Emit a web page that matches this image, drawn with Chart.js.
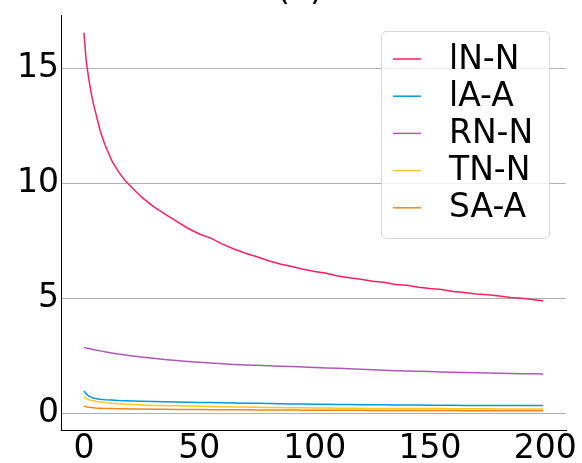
<!DOCTYPE html>
<html>
<head>
<meta charset="utf-8">
<script src="https://cdn.jsdelivr.net/npm/chart.js@4.4.1/dist/chart.umd.min.js"></script>
<style>
  html, body { margin: 0; padding: 0; background: #fff; }
  #chart { display: block; }
</style>
</head>
<body>
<canvas id="chart" width="582" height="463"></canvas>
<script>
// ---- data ----
const steps = [0, 1, 2, 3, 4, 5, 7, 9, 12, 15, 18, 21, 25, 30, 35, 40, 45, 50, 55, 60,
  65, 70, 75, 80, 85, 90, 95, 100, 105, 110, 115, 120, 125, 130, 135, 140, 145, 150,
  155, 160, 165, 170, 175, 180, 185, 190, 195, 199];

const lnN = [16.55, 15.3, 14.6, 14.0, 13.5, 13.1, 12.3, 11.7, 11.0, 10.5, 10.1, 9.8, 9.4,
  9.0, 8.68, 8.36, 8.05, 7.8, 7.62, 7.36, 7.15, 6.96, 6.81, 6.64, 6.5, 6.39, 6.27, 6.17,
  6.09, 5.97, 5.9, 5.83, 5.75, 5.7, 5.61, 5.57, 5.49, 5.43, 5.39, 5.3, 5.26, 5.19, 5.16,
  5.1, 5.04, 5.01, 4.94, 4.9];
const laA = [0.98, 0.85, 0.76, 0.71, 0.67, 0.65, 0.62, 0.6, 0.58, 0.56, 0.55, 0.54, 0.53,
  0.52, 0.51, 0.5, 0.49, 0.48, 0.47, 0.46, 0.45, 0.44, 0.44, 0.43, 0.42, 0.41, 0.41, 0.4,
  0.4, 0.39, 0.39, 0.38, 0.38, 0.38, 0.37, 0.37, 0.37, 0.36, 0.36, 0.36, 0.35, 0.35, 0.35,
  0.35, 0.34, 0.34, 0.34, 0.34];
const rnN = [2.87, 2.84, 2.82, 2.8, 2.78, 2.76, 2.72, 2.68, 2.63, 2.58, 2.54, 2.5, 2.45,
  2.4, 2.34, 2.3, 2.26, 2.22, 2.19, 2.16, 2.13, 2.11, 2.09, 2.07, 2.05, 2.04, 2.02, 2.0,
  1.98, 1.96, 1.94, 1.92, 1.9, 1.88, 1.86, 1.85, 1.83, 1.82, 1.8, 1.79, 1.78, 1.77, 1.76,
  1.75, 1.74, 1.73, 1.72, 1.71];
const tnN = [0.72, 0.64, 0.6, 0.57, 0.55, 0.53, 0.5, 0.47, 0.44, 0.42, 0.4, 0.39, 0.37,
  0.35, 0.34, 0.33, 0.32, 0.31, 0.3, 0.29, 0.28, 0.28, 0.27, 0.26, 0.26, 0.25, 0.25, 0.24,
  0.24, 0.23, 0.23, 0.23, 0.22, 0.22, 0.22, 0.21, 0.21, 0.21, 0.21, 0.2, 0.2, 0.2, 0.2,
  0.19, 0.19, 0.19, 0.19, 0.19];
const saA = [0.32, 0.29, 0.27, 0.26, 0.25, 0.24, 0.23, 0.22, 0.21, 0.2, 0.2, 0.19, 0.19,
  0.18, 0.18, 0.17, 0.17, 0.17, 0.16, 0.16, 0.16, 0.16, 0.15, 0.15, 0.15, 0.15, 0.14, 0.14,
  0.14, 0.14, 0.14, 0.14, 0.13, 0.13, 0.13, 0.13, 0.13, 0.13, 0.13, 0.13, 0.12, 0.12, 0.12,
  0.12, 0.12, 0.12, 0.12, 0.12];

const seriesNames = ['lN-N', 'lA-A', 'RN-N', 'TN-N', 'SA-A'];
const seriesColors = ['#FF1F5B', '#009ADE', '#AF58BA', '#FFC61E', '#F28522'];
const seriesValues = [lnN, laA, rnN, tnN, saA];

const xTicks = [0, 50, 100, 150, 200];
const yTicks = [0, 5, 10, 15];
const panelTitle = '(a)';

const FONT = '"DejaVu Sans", sans-serif';

// Legend box drawn inside the plot, like matplotlib's 'upper right'
const boxLegend = {
    id: 'boxLegend',
    afterDatasetsDraw(chart) {
        const ctx = chart.ctx;
        const x = 381, y = 31, w = 168, h = 207;
        ctx.save();
        ctx.beginPath();
        ctx.roundRect(x + 0.5, y + 0.5, w, h, 5);
        ctx.fillStyle = 'rgba(255,255,255,0.8)';
        ctx.fill();
        ctx.strokeStyle = '#d6d6d6';
        ctx.lineWidth = 1;
        ctx.stroke();

        ctx.font = '33px ' + FONT;
        ctx.textBaseline = 'middle';
        ctx.textAlign = 'left';
        chart.data.datasets.forEach((ds, i) => {
            const rowY = 59 + i * 37.2;
            ctx.strokeStyle = ds.borderColor;
            ctx.lineWidth = 1.5;
            ctx.beginPath();
            ctx.moveTo(393, rowY);
            ctx.lineTo(421, rowY);
            ctx.stroke();
            ctx.fillStyle = '#000';
            ctx.fillText(ds.label, 449, rowY + 1);
        });
        ctx.restore();
    },
    afterDraw(chart) {
        // title sits mostly above the canvas in the reference
        const ctx = chart.ctx;
        ctx.save();
        ctx.font = '33px ' + FONT;
        ctx.fillStyle = '#000';
        ctx.textAlign = 'center';
        ctx.textBaseline = 'alphabetic';
        ctx.fillText(panelTitle, 300, 0);
        ctx.restore();
    }
};

const datasets = seriesNames.map((name, i) => ({
    label: name,
    data: steps.map((s, k) => ({ x: s, y: seriesValues[i][k] })),
    borderColor: seriesColors[i],
    backgroundColor: seriesColors[i],
    borderWidth: 1.5,
    pointRadius: 0,
    tension: 0,
    fill: false,
    order: seriesNames.length - i
}));

new Chart(document.getElementById('chart'), {
    type: 'line',
    data: { datasets: datasets },
    options: {
        responsive: false,
        animation: false,
        layout: { padding: { top: 15, right: 16, left: 0, bottom: 0 } },
        scales: {
            x: {
                type: 'linear',
                min: -9.95,
                max: 208.95,
                afterBuildTicks: (scale) => { scale.ticks = xTicks.map(v => ({ value: v })); },
                afterFit: (scale) => {
                    scale.height = 33;
                    scale.paddingLeft = 0;
                    scale.paddingRight = 0;
                },
                grid: { display: false, drawTicks: false },
                border: { display: true, color: '#000', width: 1 },
                ticks: {
                    color: '#000',
                    padding: 0,
                    maxRotation: 0,
                    font: { family: FONT, size: 33 }
                }
            },
            y: {
                type: 'linear',
                min: -0.72,
                max: 17.32,
                afterBuildTicks: (scale) => { scale.ticks = yTicks.map(v => ({ value: v })); },
                afterFit: (scale) => {
                    scale.width = 61;
                    scale.paddingTop = 0;
                    scale.paddingBottom = 0;
                },
                grid: { color: '#b0b0b0', lineWidth: 1, drawTicks: false },
                border: { display: true, color: '#000', width: 1 },
                ticks: {
                    color: '#000',
                    padding: 2,
                    font: { family: FONT, size: 33 }
                }
            }
        },
        plugins: {
            legend: { display: false },
            title: { display: false },
            tooltip: { enabled: false }
        }
    },
    plugins: [boxLegend]
});
</script>
</body>
</html>
